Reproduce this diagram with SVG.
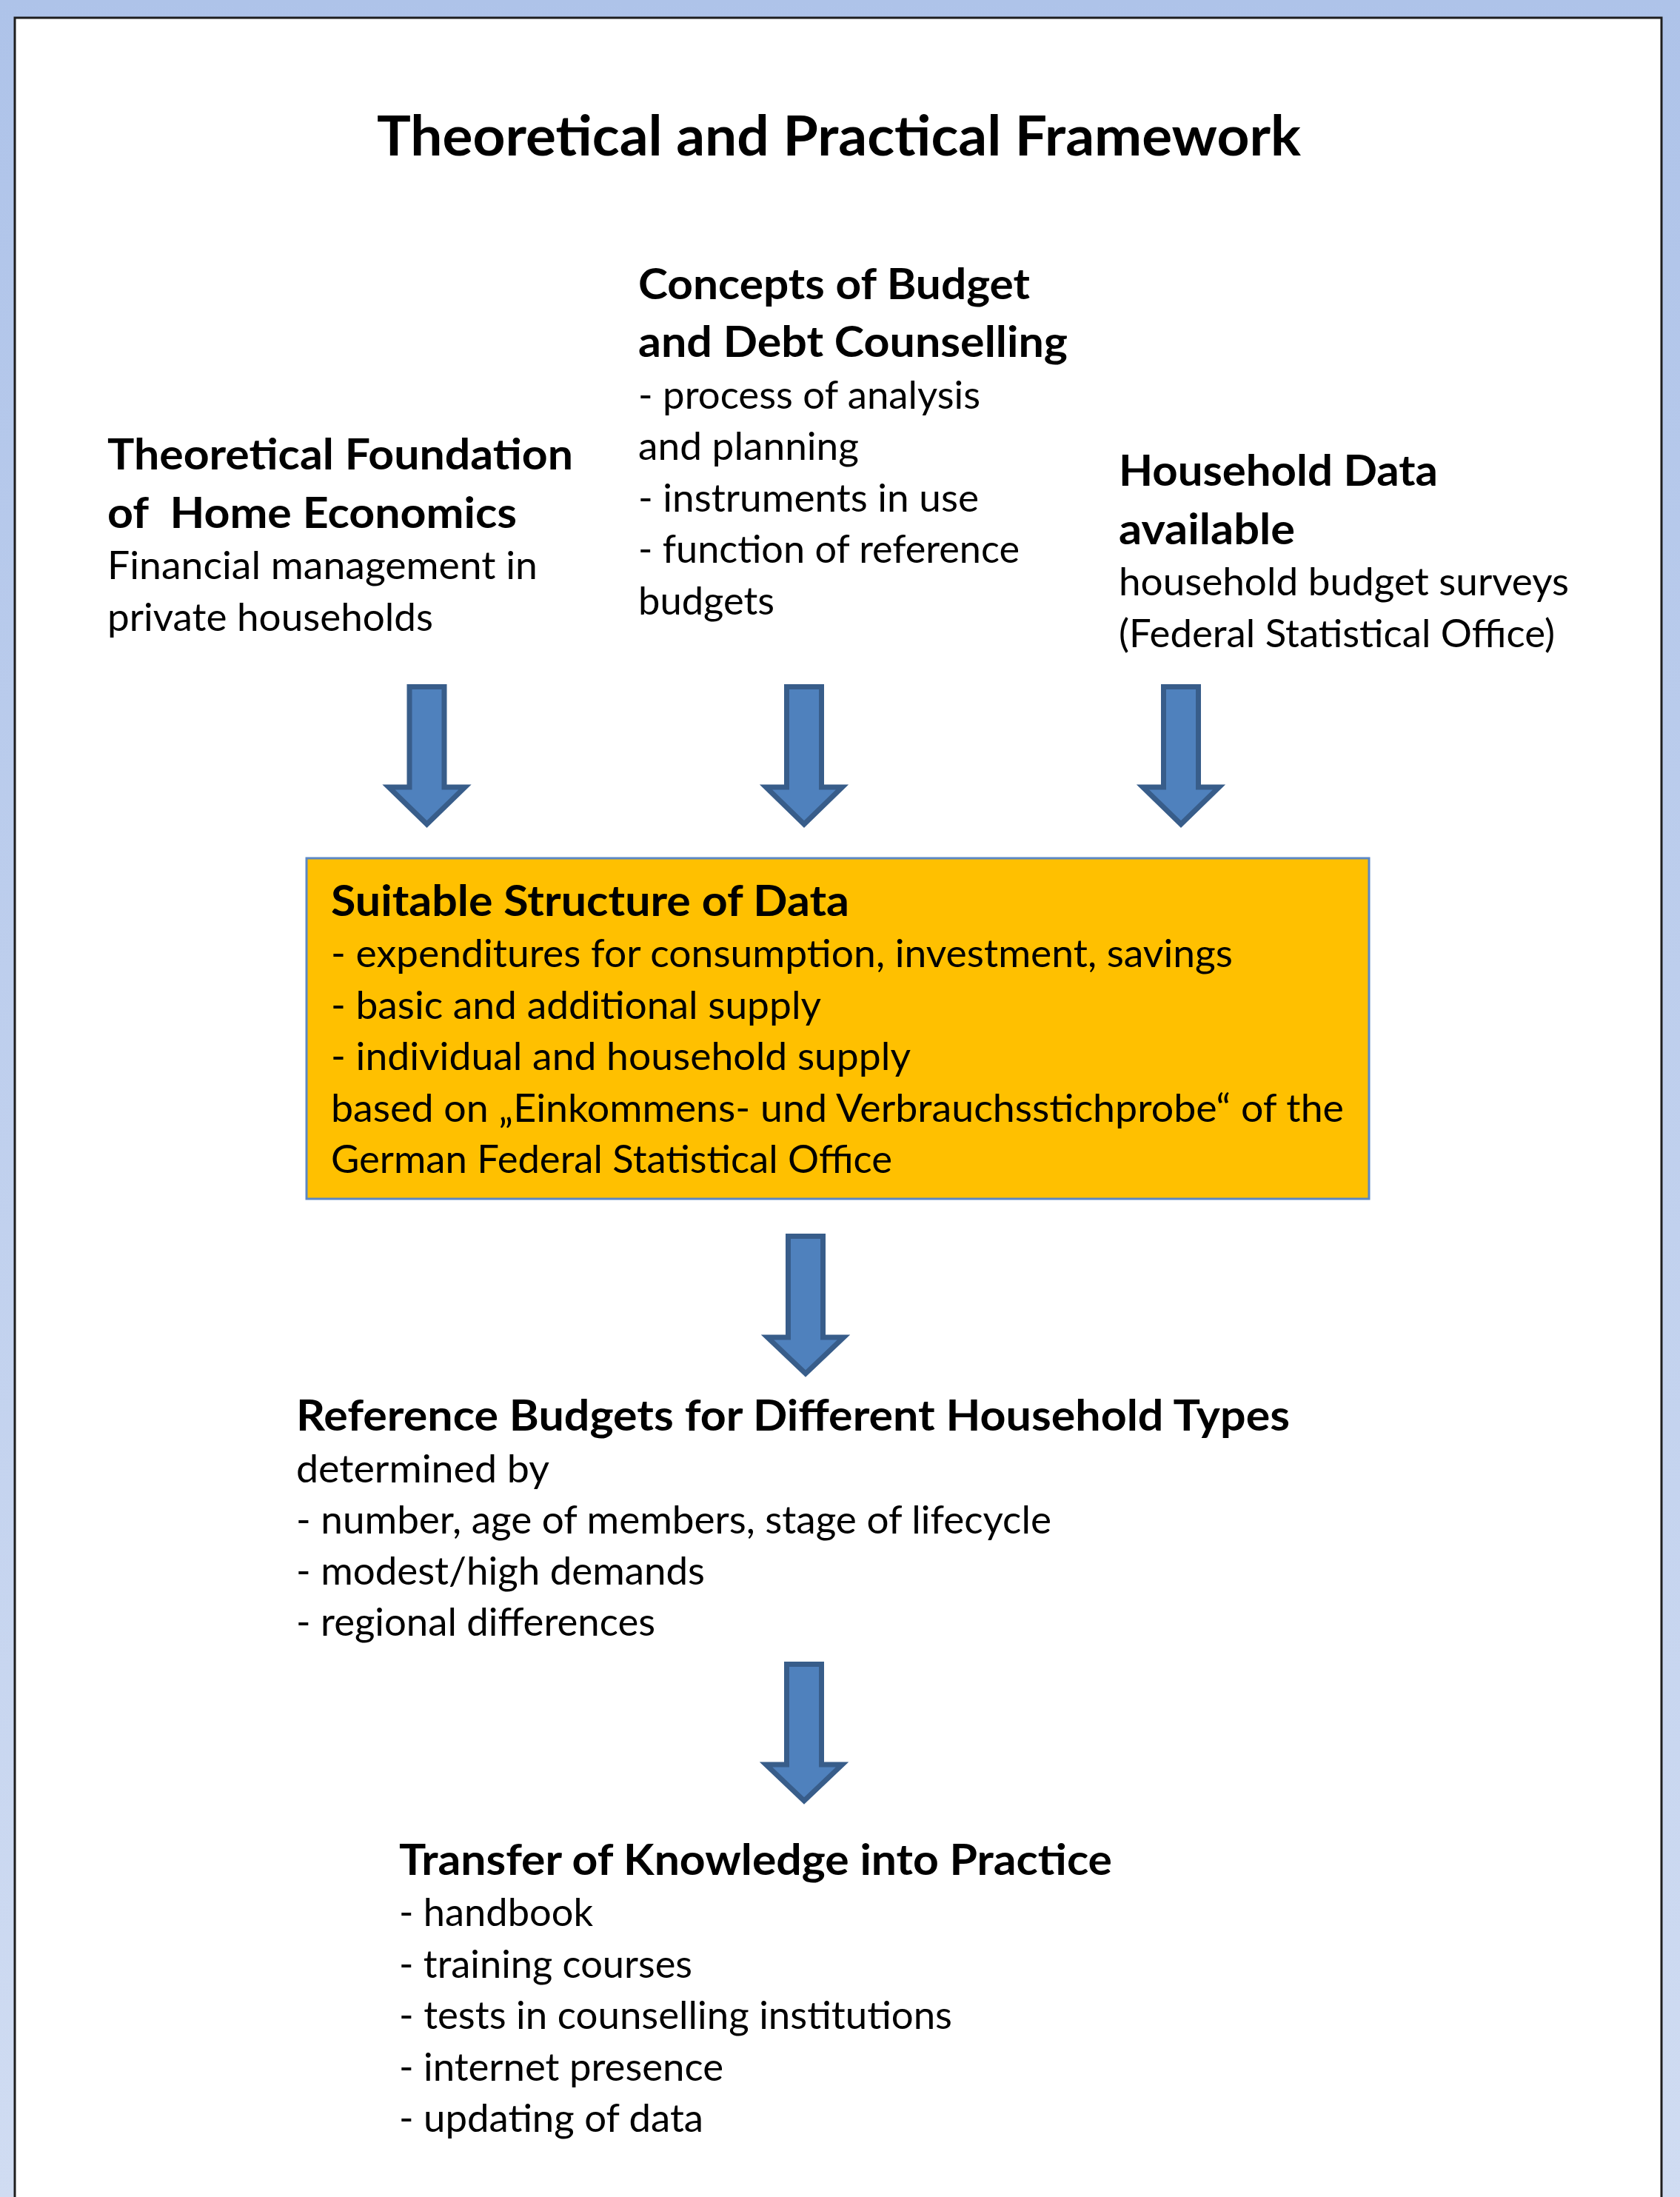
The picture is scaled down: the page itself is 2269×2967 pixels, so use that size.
<svg xmlns="http://www.w3.org/2000/svg" width="2269" height="2967" viewBox="0 0 2269 2967">
<defs>
<linearGradient id="bg" x1="0" y1="0" x2="0" y2="1">
<stop offset="0" stop-color="#aec3e9"/>
<stop offset="1" stop-color="#d0dcf2"/>
</linearGradient>
<style>
text{font-family:Lato,"Liberation Sans",sans-serif;fill:#000;}
.t{font-size:74px;font-weight:bold;}
.h{font-size:58px;font-weight:bold;}
.b{font-size:52px;}
.arrow{fill:#4f81bd;stroke:#385d8a;stroke-width:7;stroke-linejoin:miter;}
</style>
</defs>
<rect x="0" y="0" width="2269" height="2967" fill="url(#bg)"/>
<rect id="panel" x="20" y="24" width="2224" height="2960" fill="#fff" stroke="#1e1e1e" stroke-width="3"/>
<g id="title">
<text class="t" x="509" y="210" textLength="1248" lengthAdjust="spacingAndGlyphs">Theoretical and Practical Framework</text>
</g>
<g id="node-foundation">
<text class="h" x="145" y="634" textLength="629" lengthAdjust="spacingAndGlyphs">Theoretical Foundation</text>
<text class="h" x="145" y="713" textLength="553" lengthAdjust="spacingAndGlyphs" xml:space="preserve" style="white-space:pre">of  Home Economics</text>
<text class="b" x="145" y="782" textLength="581" lengthAdjust="spacingAndGlyphs">Financial management in</text>
<text class="b" x="145" y="852" textLength="440" lengthAdjust="spacingAndGlyphs">private households</text>
</g>
<g id="node-concepts">
<text class="h" x="862" y="404" textLength="529" lengthAdjust="spacingAndGlyphs">Concepts of Budget</text>
<text class="h" x="862" y="482" textLength="580" lengthAdjust="spacingAndGlyphs">and Debt Counselling</text>
<text class="b" x="862" y="552" textLength="462" lengthAdjust="spacingAndGlyphs">- process of analysis</text>
<text class="b" x="862" y="621" textLength="298" lengthAdjust="spacingAndGlyphs">and planning</text>
<text class="b" x="862" y="691" textLength="460" lengthAdjust="spacingAndGlyphs">- instruments in use</text>
<text class="b" x="862" y="760" textLength="515" lengthAdjust="spacingAndGlyphs">- function of reference</text>
<text class="b" x="862" y="830" textLength="184" lengthAdjust="spacingAndGlyphs">budgets</text>
</g>
<g id="node-household-data">
<text class="h" x="1511" y="656" textLength="431" lengthAdjust="spacingAndGlyphs">Household Data</text>
<text class="h" x="1511" y="735" textLength="238" lengthAdjust="spacingAndGlyphs">available</text>
<text class="b" x="1511" y="804" textLength="608" lengthAdjust="spacingAndGlyphs">household budget surveys</text>
<text class="b" x="1511" y="874" textLength="589" lengthAdjust="spacingAndGlyphs">(Federal Statistical Office)</text>
</g>
<g id="node-structure">
<rect x="414" y="1159" width="1435" height="460" fill="#ffc000" stroke="#5b87c5" stroke-width="3"/>
<text class="h" x="447" y="1237" textLength="700" lengthAdjust="spacingAndGlyphs">Suitable Structure of Data</text>
<text class="b" x="447" y="1306" textLength="1218" lengthAdjust="spacingAndGlyphs">- expenditures for consumption, investment, savings</text>
<text class="b" x="447" y="1376" textLength="662" lengthAdjust="spacingAndGlyphs">- basic and additional supply</text>
<text class="b" x="447" y="1445" textLength="783" lengthAdjust="spacingAndGlyphs">- individual and household supply</text>
<text class="b" x="447" y="1515" textLength="1368" lengthAdjust="spacingAndGlyphs">based on „Einkommens- und Verbrauchsstichprobe“ of the</text>
<text class="b" x="447" y="1584" textLength="758" lengthAdjust="spacingAndGlyphs">German Federal Statistical Office</text>
</g>
<g id="node-reference-budgets">
<text class="h" x="400" y="1932" textLength="1342" lengthAdjust="spacingAndGlyphs">Reference Budgets for Different Household Types</text>
<text class="b" x="400" y="2002" textLength="342" lengthAdjust="spacingAndGlyphs">determined by</text>
<text class="b" x="400" y="2071" textLength="1020" lengthAdjust="spacingAndGlyphs">- number, age of members, stage of lifecycle</text>
<text class="b" x="400" y="2140" textLength="552" lengthAdjust="spacingAndGlyphs">- modest/high demands</text>
<text class="b" x="400" y="2209" textLength="485" lengthAdjust="spacingAndGlyphs">- regional differences</text>
</g>
<g id="node-transfer">
<text class="h" x="539" y="2532" textLength="963" lengthAdjust="spacingAndGlyphs">Transfer of Knowledge into Practice</text>
<text class="b" x="539" y="2601" textLength="262" lengthAdjust="spacingAndGlyphs">- handbook</text>
<text class="b" x="539" y="2671" textLength="396" lengthAdjust="spacingAndGlyphs">- training courses</text>
<text class="b" x="539" y="2740" textLength="747" lengthAdjust="spacingAndGlyphs">- tests in counselling institutions</text>
<text class="b" x="539" y="2810" textLength="438" lengthAdjust="spacingAndGlyphs">- internet presence</text>
<text class="b" x="539" y="2879" textLength="411" lengthAdjust="spacingAndGlyphs">- updating of data</text>
</g>
<g id="connectors">
<path class="arrow" d="M553,927.5 H600 V1063 H628 L576.5,1113 L525,1063 H553 Z"/>
<path class="arrow" d="M1062.5,927.5 H1109.5 V1063 H1137.5 L1086,1113 L1034.5,1063 H1062.5 Z"/>
<path class="arrow" d="M1571.5,927.5 H1618.5 V1063 H1646.5 L1595,1113 L1543.5,1063 H1571.5 Z"/>
<path class="arrow" d="M1064.5,1669.5 H1111.5 V1806 H1139.5 L1088,1855 L1036.5,1806 H1064.5 Z"/>
<path class="arrow" d="M1062.5,2247.5 H1109.5 V2383 H1137.5 L1086,2432 L1034.5,2383 H1062.5 Z"/>
</g>
</svg>
